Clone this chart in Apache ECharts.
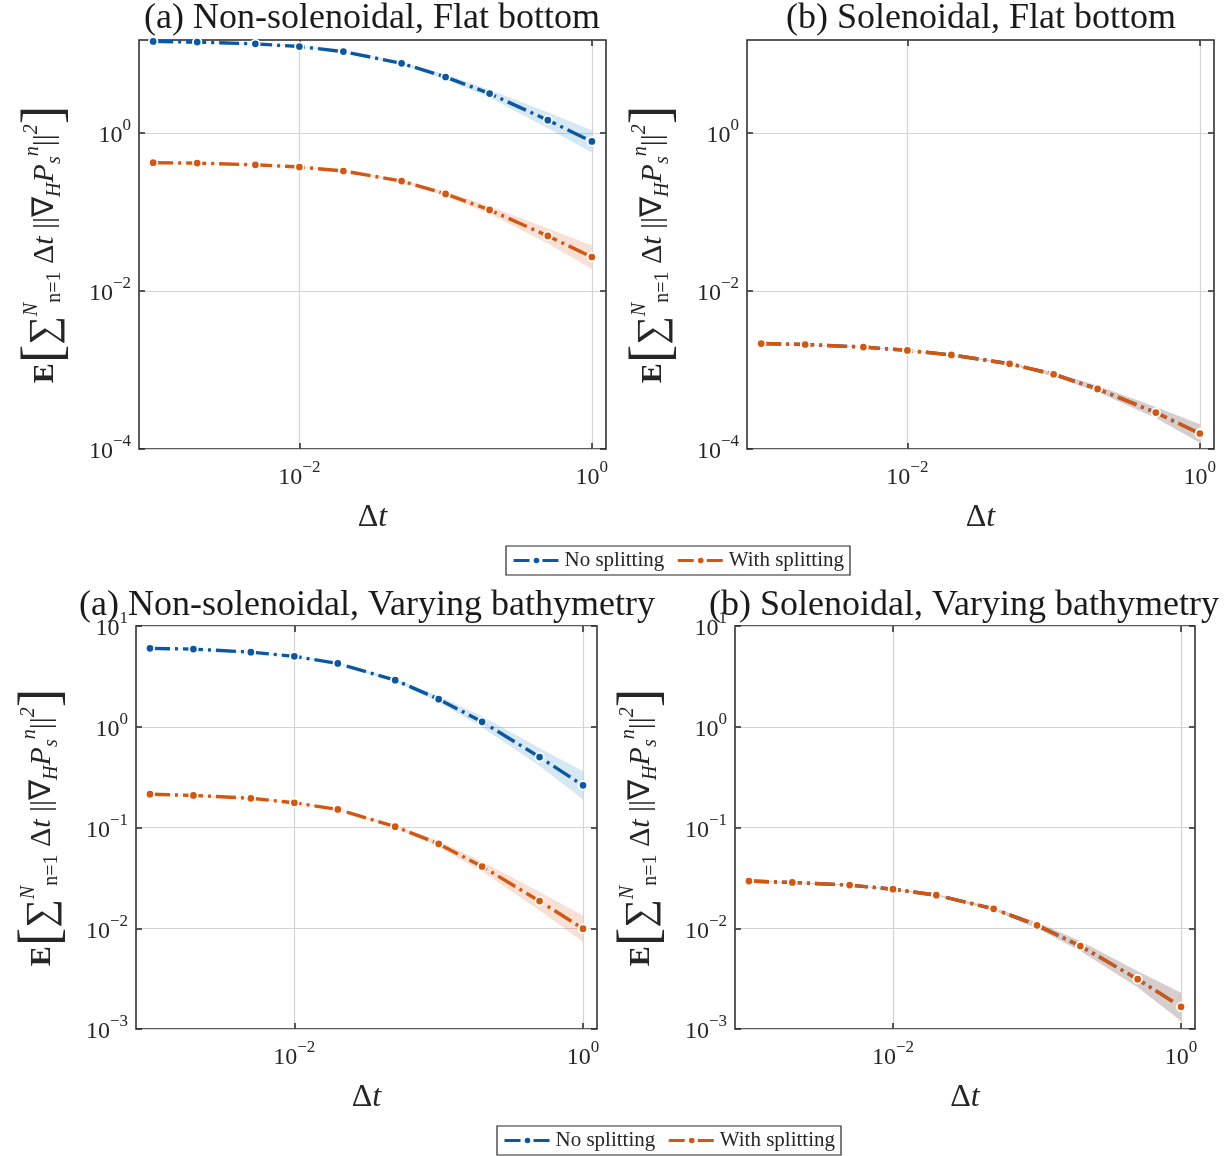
<!DOCTYPE html>
<html><head><meta charset="utf-8">
<script src="https://cdn.jsdelivr.net/npm/echarts@6/dist/echarts.min.js"></script>
<style>html,body{margin:0;padding:0;background:#fff}#c{width:1231px;height:1156px}</style>
</head><body><div id="c"></div><script>
// ---------- data ----------
const dt = [0.001, 0.002, 0.005, 0.01, 0.02, 0.05, 0.1, 0.2, 0.5, 1];

// (a) Non-solenoidal, Flat bottom
const flatNonSolNoSplit   = [14.4, 14.1, 13.4, 12.4, 10.7, 7.6, 5.1, 3.15, 1.45, 0.78];
const flatNonSolNoSplitLo = [14.27, 13.97, 13.25, 12.23, 10.5, 7.34, 4.76, 2.81, 1.15, 0.565];
const flatNonSolNoSplitHi = [14.53, 14.23, 13.56, 12.57, 10.9, 7.87, 5.47, 3.53, 1.83, 1.08];
const flatNonSolWithSplit   = [0.42, 0.415, 0.395, 0.37, 0.33, 0.246, 0.169, 0.106, 0.0497, 0.0269];
const flatNonSolWithSplitLo = [0.416, 0.411, 0.39, 0.365, 0.324, 0.238, 0.158, 0.0945, 0.0399, 0.019];
const flatNonSolWithSplitHi = [0.424, 0.419, 0.40, 0.375, 0.336, 0.255, 0.181, 0.119, 0.0619, 0.038];

// (b) Solenoidal, Flat bottom (both curves coincide)
const flatSolNoSplit   = [0.00216, 0.0021, 0.00195, 0.00177, 0.00155, 0.0012, 0.000883, 0.000575, 0.000289, 0.000157];
const flatSolNoSplitLo = [0.00214, 0.00208, 0.00193, 0.00175, 0.00152, 0.00117, 0.000834, 0.000525, 0.000246, 0.00012];
const flatSolNoSplitHi = [0.00218, 0.00212, 0.00197, 0.00179, 0.00158, 0.00123, 0.000935, 0.00063, 0.00034, 0.000205];
const flatSolWithSplit   = [0.00216, 0.0021, 0.00195, 0.00177, 0.00155, 0.0012, 0.000883, 0.000575, 0.000289, 0.000157];
const flatSolWithSplitLo = [0.00214, 0.00208, 0.00193, 0.00175, 0.00152, 0.00117, 0.000834, 0.000525, 0.000246, 0.00012];
const flatSolWithSplitHi = [0.00218, 0.00212, 0.00197, 0.00179, 0.00158, 0.00123, 0.000935, 0.00063, 0.00034, 0.000205];

// (a) Non-solenoidal, Varying bathymetry
const bathNonSolNoSplit   = [6.0, 5.9, 5.5, 5.0, 4.25, 2.9, 1.88, 1.12, 0.50, 0.262];
const bathNonSolNoSplitLo = [5.94, 5.85, 5.44, 4.93, 4.17, 2.8, 1.75, 0.987, 0.407, 0.19];
const bathNonSolNoSplitHi = [6.06, 5.95, 5.56, 5.07, 4.33, 3.0, 2.02, 1.27, 0.615, 0.362];
const bathNonSolWithSplit   = [0.214, 0.208, 0.195, 0.176, 0.151, 0.102, 0.0688, 0.041, 0.0186, 0.0099];
const bathNonSolWithSplitLo = [0.212, 0.206, 0.193, 0.174, 0.148, 0.0986, 0.0642, 0.0365, 0.0151, 0.0073];
const bathNonSolWithSplitHi = [0.216, 0.21, 0.197, 0.178, 0.154, 0.106, 0.0738, 0.046, 0.0229, 0.0134];

// (b) Solenoidal, Varying bathymetry (both curves coincide)
const bathSolNoSplit   = [0.0294, 0.0285, 0.0268, 0.0244, 0.0213, 0.0156, 0.0107, 0.00666, 0.00312, 0.00166];
const bathSolNoSplitLo = [0.0291, 0.0282, 0.0265, 0.0241, 0.0209, 0.0151, 0.00998, 0.00594, 0.0026, 0.0012];
const bathSolNoSplitHi = [0.0297, 0.0288, 0.0271, 0.0247, 0.0217, 0.0161, 0.0115, 0.00747, 0.00375, 0.00229];
const bathSolWithSplit   = [0.0294, 0.0285, 0.0268, 0.0244, 0.0213, 0.0156, 0.0107, 0.00666, 0.00312, 0.00166];
const bathSolWithSplitLo = [0.0291, 0.0282, 0.0265, 0.0241, 0.0209, 0.0151, 0.00998, 0.00594, 0.0026, 0.0012];
const bathSolWithSplitHi = [0.0297, 0.0288, 0.0271, 0.0247, 0.0217, 0.0161, 0.0115, 0.00747, 0.00375, 0.00229];

const titles = ['(a) Non-solenoidal, Flat bottom', '(b) Solenoidal, Flat bottom',
                '(a) Non-solenoidal, Varying bathymetry', '(b) Solenoidal, Varying bathymetry'];
const xTickValues = [0.01, 1];
const yTickValuesFlat = [1e-4, 1e-2, 1];
const yTickValuesBath = [1e-3, 1e-2, 1e-1, 1, 10];
const seriesNames = ['No splitting', 'With splitting'];

// ---------- style ----------
const FONT = '"Liberation Serif", "Times New Roman", serif';
const INK = '#262626';
const BLUE = '#0a58a2', ORANGE = '#d4570f';
const BLUE_BAND = 'rgba(0,114,189,0.16)', ORANGE_BAND = 'rgba(217,83,25,0.18)';
const DASH = [20, 5, 3, 5];

const panels = [
  {grid: {left: 139, top: 40, width: 467, height: 409}, yMin: 1e-4, yMax: 15, yTicks: yTickValuesFlat,
   title: titles[0], tx: 372, ty: 19,
   data: [[flatNonSolNoSplit, flatNonSolNoSplitLo, flatNonSolNoSplitHi], [flatNonSolWithSplit, flatNonSolWithSplitLo, flatNonSolWithSplitHi]]},
  {grid: {left: 747, top: 40, width: 467, height: 409}, yMin: 1e-4, yMax: 15, yTicks: yTickValuesFlat,
   title: titles[1], tx: 981, ty: 19,
   data: [[flatSolNoSplit, flatSolNoSplitLo, flatSolNoSplitHi], [flatSolWithSplit, flatSolWithSplitLo, flatSolWithSplitHi]]},
  {grid: {left: 136, top: 626, width: 461, height: 403}, yMin: 1e-3, yMax: 10, yTicks: yTickValuesBath,
   title: titles[2], tx: 367, ty: 606,
   data: [[bathNonSolNoSplit, bathNonSolNoSplitLo, bathNonSolNoSplitHi], [bathNonSolWithSplit, bathNonSolWithSplitLo, bathNonSolWithSplitHi]]},
  {grid: {left: 735, top: 626, width: 460, height: 403}, yMin: 1e-3, yMax: 10, yTicks: yTickValuesBath,
   title: titles[3], tx: 964, ty: 606,
   data: [[bathSolNoSplit, bathSolNoSplitLo, bathSolNoSplitHi], [bathSolWithSplit, bathSolWithSplitLo, bathSolWithSplitHi]]}
];

function powLabel(v) {
  const e = Math.log10(v), r = Math.round(e);
  if (Math.abs(e - r) > 1e-6) return '';
  return '{b|10}{s|' + (r < 0 ? '\u2212' + (-r) : String(r)) + '}';
}
const tickRich = {
  b: {fontFamily: FONT, fontSize: 24, color: INK, verticalAlign: 'middle', padding: [6, 0, 0, 0]},
  s: {fontFamily: FONT, fontSize: 17, color: INK, verticalAlign: 'middle', padding: [0, 0, 14, 0]}
};
const yNameText = '{E|E}{br|[}{sum|\u2211}{sup|N}{sub|n=1}{m| \u0394}{mi|t}{m| ||\u2207}{subi|H}{mi|P}{subi|s}{supi|n}{m|||}{sup|2}{br|]}';
const yNameRich = {
  E: {fontFamily: FONT, fontSize: 30, fontWeight: 'bold', color: INK, verticalAlign: 'middle'},
  br: {fontFamily: FONT, fontSize: 56, fontWeight: 'lighter', color: INK, verticalAlign: 'middle'},
  sum: {fontFamily: FONT, fontSize: 40, color: INK, verticalAlign: 'middle'},
  sup: {fontFamily: FONT, fontSize: 20, color: INK, verticalAlign: 'middle', padding: [0, 0, 26, 0], fontStyle: 'italic'},
  sub: {fontFamily: FONT, fontSize: 20, color: INK, verticalAlign: 'middle', padding: [20, 0, 0, 0]},
  subi: {fontFamily: FONT, fontSize: 20, color: INK, verticalAlign: 'middle', padding: [20, 0, 0, 0], fontStyle: 'italic'},
  supi: {fontFamily: FONT, fontSize: 20, color: INK, verticalAlign: 'middle', padding: [0, 0, 24, 0], fontStyle: 'italic'},
  m: {fontFamily: FONT, fontSize: 30, color: INK, verticalAlign: 'middle'},
  mi: {fontFamily: FONT, fontSize: 30, color: INK, verticalAlign: 'middle', fontStyle: 'italic'}
};
const xNameRich = {
  d: {fontFamily: FONT, fontSize: 32, color: INK},
  t: {fontFamily: FONT, fontSize: 32, color: INK, fontStyle: 'italic'}
};

const grids = [], xAxes = [], yAxes = [], series = [], graphics = [];
panels.forEach((p, g) => {
  grids.push(Object.assign({show: true, borderColor: INK, borderWidth: 1.5, backgroundColor: '#fff'}, p.grid));
  const xBase = {
    type: 'log', logBase: 10, gridIndex: g, min: 8e-4, max: 1.25,
    axisLine: {show: false},
    axisTick: {show: true, inside: true, length: 6, lineStyle: {color: INK, width: 1.5}, customValues: xTickValues},
    splitLine: {show: false}, axisLabel: {show: false}
  };
  xAxes.push(Object.assign({}, xBase, {
    position: 'bottom',
    splitLine: {show: true, lineStyle: {color: '#d4d4d4', width: 1.2}},
    axisLabel: {show: true, formatter: powLabel, rich: tickRich, margin: 10, customValues: xTickValues},
    name: '{d|\u0394}{t|t}', nameLocation: 'middle', nameGap: 53, nameTextStyle: {rich: xNameRich}
  }));
  xAxes.push(Object.assign({}, xBase, {position: 'top'}));
  const yBase = {
    type: 'log', logBase: 10, gridIndex: g, min: p.yMin, max: p.yMax,
    axisLine: {show: false},
    axisTick: {show: true, inside: true, length: 6, lineStyle: {color: INK, width: 1.5}, customValues: p.yTicks},
    splitLine: {show: false}, axisLabel: {show: false}
  };
  yAxes.push(Object.assign({}, yBase, {
    position: 'left',
    splitLine: {show: true, lineStyle: {color: '#d4d4d4', width: 1.2}},
    axisLabel: {show: true, formatter: powLabel, rich: tickRich, margin: 8, customValues: p.yTicks},
    name: yNameText, nameLocation: 'middle', nameRotate: 90, nameGap: 66,
    nameTextStyle: {rich: yNameRich}
  }));
  yAxes.push(Object.assign({}, yBase, {position: 'right'}));

  const colors = [BLUE, ORANGE], bands = [BLUE_BAND, ORANGE_BAND];
  p.data.forEach((trip, k) => {
    const lo = trip[1], hi = trip[2];
    series.push({
      type: 'custom', name: seriesNames[k] + ' band', xAxisIndex: 2 * g, yAxisIndex: 2 * g, z: 2, silent: true,
      data: dt.map((d, i) => [d, lo[i], hi[i]]), encode: {x: 0, y: [1, 2]},
      renderItem: (params, api) => {
        if (params.dataIndex !== 0) return null;
        const pts = [];
        for (let i = 0; i < dt.length; i++) pts.push(api.coord([dt[i], hi[i]]));
        for (let i = dt.length - 1; i >= 0; i--) pts.push(api.coord([dt[i], lo[i]]));
        return {type: 'polygon', shape: {points: pts}, style: {fill: bands[k]}};
      }
    });
  });
  p.data.forEach((trip, k) => {
    const v = trip[0];
    series.push({
      type: 'line', name: seriesNames[k], xAxisIndex: 2 * g, yAxisIndex: 2 * g, z: 3,
      data: dt.map((d, i) => [d, v[i]]),
      symbol: 'circle', symbolSize: 8.5, showSymbol: true,
      lineStyle: {color: colors[k], width: 3.4, type: DASH, cap: 'butt'},
      itemStyle: {color: colors[k], borderColor: '#fff', borderWidth: 1.8}
    });
  });
  graphics.push({type: 'text', x: p.tx, y: p.ty, z: 10,
    style: {text: p.title, fill: '#1a1a1a', font: '36px ' + FONT, textAlign: 'center', textVerticalAlign: 'middle'}});
});

const legendBase = {
  data: seriesNames, orient: 'horizontal', itemWidth: 46, itemHeight: 7, itemGap: 12,
  borderColor: INK, borderWidth: 1.2, padding: [4, 6, 4, 6], backgroundColor: '#fff',
  lineStyle: {width: 3, type: [16, 5, 3, 5]},
  itemStyle: {borderWidth: 0},
  textStyle: {fontFamily: FONT, fontSize: 21, color: INK}, selectedMode: false
};

const chart = echarts.init(document.getElementById('c'), null, {renderer: 'canvas'});
chart.setOption({
  animation: false,
  backgroundColor: '#fff',
  grid: grids, xAxis: xAxes, yAxis: yAxes, series: series,
  legend: [Object.assign({left: 506, top: 546}, legendBase), Object.assign({left: 497, top: 1126}, legendBase)],
  graphic: graphics
});
</script></body></html>
